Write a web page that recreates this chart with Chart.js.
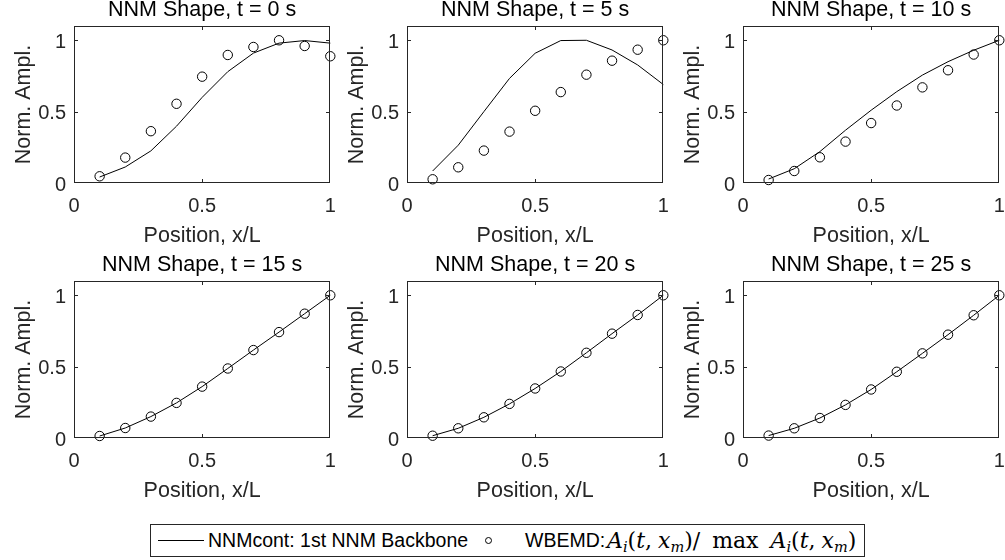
<!DOCTYPE html>
<html>
<head>
<meta charset="utf-8">
<script src="https://cdn.jsdelivr.net/npm/chart.js@4.4.1/dist/chart.umd.min.js"></script>
<style>
  html, body { margin: 0; padding: 0; background: #fff; }
  #wrap { position: relative; width: 1005px; height: 560px; overflow: hidden; background: #fff; font-family: "Liberation Sans", Arial, sans-serif; }
  .panel { position: absolute; }
  #legend { position: absolute; left: 150px; top: 524px; width: 715px; height: 33px; border: 1px solid #262626; box-sizing: border-box; background: #fff; color: #000; }
  #legend .sample { position: absolute; left: 7px; top: 15px; width: 46px; height: 0; border-top: 1px solid #000; }
  #legend .circ { position: absolute; left: 334px; top: 12px; width: 7px; height: 7px; border: 1px solid #000; border-radius: 50%; box-sizing: border-box; }
  #legend .txt { position: absolute; top: 0; height: 31px; line-height: 31px; font-size: 19.5px; white-space: nowrap; }
  #legend .math { position: absolute; top: 0; height: 31px; line-height: 31px; font-family: "DejaVu Serif", "Liberation Serif", serif; font-size: 22px; white-space: nowrap; }
  .math i { font-style: italic; }
  .math sub { font-size: 14.5px; vertical-align: -4px; line-height: 0; }
  .math .sp { display: inline-block; width: 6px; }
  .math .sp2 { display: inline-block; width: 12px; }
</style>
</head>
<body>
<div id="wrap">
  <div class="panel" style="left:0px;top:0px"><canvas id="c0" width="336" height="255"></canvas></div>
  <div class="panel" style="left:333px;top:0px"><canvas id="c1" width="336" height="255"></canvas></div>
  <div class="panel" style="left:669px;top:0px"><canvas id="c2" width="336" height="255"></canvas></div>
  <div class="panel" style="left:0px;top:255px"><canvas id="c3" width="336" height="255"></canvas></div>
  <div class="panel" style="left:333px;top:255px"><canvas id="c4" width="336" height="255"></canvas></div>
  <div class="panel" style="left:669px;top:255px"><canvas id="c5" width="336" height="255"></canvas></div>
  <div id="legend">
    <div class="sample"></div>
    <div class="txt" style="left:57px">NNMcont: 1st NNM Backbone</div>
    <div class="circ"></div>
    <div class="txt" style="left:374px">WBEMD:</div>
    <div class="math" style="left:456px"><i>A</i><sub><i>i</i></sub>(<i>t</i>,<span class="sp"></span><i>x</i><sub><i>m</i></sub>)/<span class="sp2"></span>max<span class="sp2"></span><i>A</i><sub><i>i</i></sub>(<i>t</i>,<span class="sp"></span><i>x</i><sub><i>m</i></sub>)</div>
  </div>
</div>
<script>
// ---- data ----
const positions = [0.1, 0.2, 0.3, 0.4, 0.5, 0.6, 0.7, 0.8, 0.9, 1.0];
const xTickValues = [0, 0.5, 1];
const yTickValues = [0, 0.5, 1];
const panelTitles = ['NNM Shape, t = 0 s', 'NNM Shape, t = 5 s', 'NNM Shape, t = 10 s',
                     'NNM Shape, t = 15 s', 'NNM Shape, t = 20 s', 'NNM Shape, t = 25 s'];
const xLabel = 'Position, x/L';
const yLabel = 'Norm. Ampl.';

const nnmcont_t0  = [0.042, 0.112, 0.225, 0.398, 0.600, 0.780, 0.910, 0.980, 0.998, 0.980];
const wbemd_t0    = [0.047, 0.178, 0.363, 0.555, 0.745, 0.897, 0.953, 1.000, 0.960, 0.888];
const nnmcont_t5  = [0.084, 0.265, 0.500, 0.733, 0.909, 0.998, 1.000, 0.932, 0.827, 0.690];
const wbemd_t5    = [0.026, 0.110, 0.227, 0.360, 0.506, 0.637, 0.759, 0.857, 0.934, 1.000];
const nnmcont_t10 = [0.028, 0.100, 0.220, 0.370, 0.510, 0.640, 0.756, 0.850, 0.930, 1.000];
const wbemd_t10   = [0.021, 0.084, 0.180, 0.290, 0.420, 0.543, 0.670, 0.790, 0.900, 1.000];
const nnmcont_t15 = [0.014, 0.070, 0.150, 0.246, 0.360, 0.487, 0.616, 0.742, 0.871, 1.000];
const wbemd_t15   = [0.014, 0.070, 0.150, 0.246, 0.360, 0.487, 0.616, 0.742, 0.871, 1.000];
const nnmcont_t20 = [0.016, 0.068, 0.145, 0.239, 0.347, 0.466, 0.597, 0.731, 0.862, 1.000];
const wbemd_t20   = [0.016, 0.068, 0.145, 0.239, 0.347, 0.466, 0.597, 0.731, 0.862, 1.000];
const nnmcont_t25 = [0.017, 0.068, 0.140, 0.232, 0.340, 0.464, 0.593, 0.724, 0.860, 1.000];
const wbemd_t25   = [0.017, 0.068, 0.140, 0.232, 0.340, 0.464, 0.593, 0.724, 0.860, 1.000];

const lineSeries = [nnmcont_t0, nnmcont_t5, nnmcont_t10, nnmcont_t15, nnmcont_t20, nnmcont_t25];
const markSeries = [wbemd_t0, wbemd_t5, wbemd_t10, wbemd_t15, wbemd_t20, wbemd_t25];

// ---- styling ----
const AXIS_COLOR = '#262626';
const FONT = '"Liberation Sans", Arial, Helvetica, sans-serif';

const framePlugin = {
  id: 'frame',
  afterDraw(chart, args, opts) {
    const ctx = chart.ctx;
    const a = chart.chartArea;
    const xs = chart.scales.x, ys = chart.scales.y;
    ctx.save();
    ctx.fillStyle = AXIS_COLOR;
    const L = Math.round(a.left), R = Math.round(a.right) - 1;
    const T = Math.round(a.top), B = Math.round(a.bottom) - 1;
    ctx.fillRect(L, T, R - L + 1, 1);
    ctx.fillRect(L, B, R - L + 1, 1);
    ctx.fillRect(L, T, 1, B - T + 1);
    ctx.fillRect(R, T, 1, B - T + 1);
    const tl = 3;
    xTickValues.forEach(v => {
      const px = Math.min(R, Math.round(xs.getPixelForValue(v)));
      ctx.fillRect(px, B - tl, 1, tl);
      ctx.fillRect(px, T + 1, 1, tl);
    });
    yTickValues.forEach(v => {
      const py = Math.min(B, Math.round(ys.getPixelForValue(v)));
      ctx.fillRect(L + 1, py, tl, 1);
      ctx.fillRect(R - tl, py, tl, 1);
    });
    // panel title centred over plot area
    ctx.fillStyle = '#000';
    ctx.font = '21.5px ' + FONT;
    ctx.textAlign = 'center';
    ctx.textBaseline = 'alphabetic';
    ctx.fillText(opts.text, (a.left + a.right) / 2, a.top - 10);
    ctx.restore();
  }
};

function makePanel(idx) {
  const el = document.getElementById('c' + idx);
  const lineData = positions.map((p, i) => ({ x: p, y: lineSeries[idx][i] }));
  const markData = positions.map((p, i) => ({ x: p, y: markSeries[idx][i] }));
  new Chart(el, {
    type: 'line',
    data: {
      datasets: [
        { label: 'NNMcont: 1st NNM Backbone', data: lineData, borderColor: '#000', borderWidth: 1,
          pointRadius: 0, tension: 0, fill: false, clip: false },
        { label: 'WBEMD', data: markData, showLine: false, borderColor: '#000', backgroundColor: 'rgba(0,0,0,0)',
          pointRadius: 4.7, pointBorderWidth: 1, pointStyle: 'circle', clip: false }
      ]
    },
    options: {
      responsive: false,
      animation: false,
      devicePixelRatio: 1,
      layout: { padding: { top: 26, right: 4, left: 0, bottom: 0 } },
      plugins: {
        legend: { display: false },
        tooltip: { enabled: false },
        title: { display: false },
        frame: { text: panelTitles[idx] }
      },
      scales: {
        x: {
          type: 'linear', min: 0, max: 1,
          grid: { display: false, drawTicks: false },
          border: { display: false },
          afterBuildTicks: s => { s.ticks = xTickValues.map(v => ({ value: v })); },
          afterFit: s => { s.height = 72; s.paddingLeft = 0; s.paddingRight = 0; },
          ticks: { color: AXIS_COLOR, font: { family: FONT, size: 20 }, padding: 11, maxRotation: 0,
                   callback: v => String(v) },
          title: { display: true, text: xLabel, color: AXIS_COLOR,
                   font: { family: FONT, size: 21.5 }, padding: { top: 0, bottom: 6 } }
        },
        y: {
          type: 'linear', min: 0, max: 1.1,
          grid: { display: false, drawTicks: false },
          border: { display: false },
          afterBuildTicks: s => { s.ticks = yTickValues.map(v => ({ value: v })); },
          afterFit: s => { s.width = 74; s.paddingTop = 0; s.paddingBottom = 0; },
          ticks: { color: AXIS_COLOR, font: { family: FONT, size: 20 }, padding: 8, labelOffset: 2,
                   callback: v => String(v) },
          title: { display: true, text: yLabel, color: AXIS_COLOR,
                   font: { family: FONT, size: 21.5 }, padding: { top: 11, bottom: 0 } }
        }
      }
    },
    plugins: [framePlugin]
  });
}

for (let i = 0; i < 6; i++) makePanel(i);
</script>
</body>
</html>
